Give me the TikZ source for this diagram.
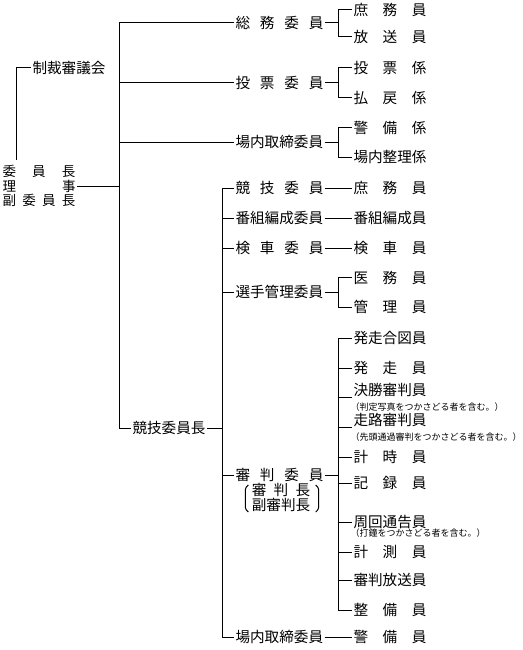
\documentclass[tikz,border=0pt]{standalone}
\usepackage{fontspec}
\setmainfont{Noto Sans CJK JP}
\newcommand{\spreadbox}[2]{\makebox[#1][s]{#2}}
\newcommand{\bigjp}{\fontsize{14.6}{15}\selectfont}
\newcommand{\chairjp}{\fontsize{13.5}{14.5}\selectfont}
\newcommand{\notejp}{\fontsize{9}{10}\selectfont}

\begin{document}
\begin{tikzpicture}[x=1pt,y=-1pt,line width=1pt,
    lbl/.style={anchor=west, inner xsep=1pt, inner ysep=0pt, font=\bigjp},
    note/.style={anchor=west, inner sep=0pt, font=\notejp}]
    \useasboundingbox (0,0) rectangle (522,650);

    \coordinate (xl) at (16,0);
    \coordinate (xa) at (119,0);
    \coordinate (xb) at (222,0);
    \coordinate (xs) at (338,0);
    \coordinate (seisaiend) at (16,160);

    % left side
    \node[lbl, font=\chairjp, align=left] (chair) at (1,186) {\spreadbox{73pt}{委\hfill 員\hfill 長}\\\spreadbox{73pt}{理\hfill 事}\\\spreadbox{73pt}{副\hfill 委\hfill 員\hfill 長}};
    \node[lbl] (seisai) at (31,68) {制裁審議会};
    \node[lbl] (kyogicho) at (131,428) {競技委員長};

    % committees
    \node[lbl] (soumu) at (234,23) {\spreadbox{88pt}{総\hfill 務\hfill 委\hfill 員}};
    \node[lbl] (tohyo) at (234,83) {\spreadbox{88pt}{投\hfill 票\hfill 委\hfill 員}};
    \node[lbl] (jonaia) at (234,142) {場内取締委員};
    \node[lbl] (kyogi) at (234,188) {\spreadbox{88pt}{競\hfill 技\hfill 委\hfill 員}};
    \node[lbl] (bangumi) at (234,218) {番組編成委員};
    \node[lbl] (kensha) at (234,248) {\spreadbox{88pt}{検\hfill 車\hfill 委\hfill 員}};
    \node[lbl] (senshu) at (234,292) {選手管理委員};
    \node[lbl] (shinpan) at (234,475) {\spreadbox{88pt}{審\hfill 判\hfill 委\hfill 員}};
    \node[lbl] (jonaib) at (234,637) {場内取締委員};
    \node[inner sep=0pt, font=\bigjp, align=left] (shincho) at (281,497.5) {\spreadbox{58.4pt}{審\hfill 判\hfill 長}\\副審判長};

    % members
    \node[lbl] (shomua) at (352,9.5) {\spreadbox{73pt}{庶\hfill 務\hfill 員}};
    \node[lbl] (hoso) at (352,37) {\spreadbox{73pt}{放\hfill 送\hfill 員}};
    \node[lbl] (tohyoka) at (352,68) {\spreadbox{73pt}{投\hfill 票\hfill 係}};
    \node[lbl] (haraimodoshi) at (352,98) {\spreadbox{73pt}{払\hfill 戻\hfill 係}};
    \node[lbl] (keibika) at (352,127.5) {\spreadbox{73pt}{警\hfill 備\hfill 係}};
    \node[lbl] (seiri) at (352,157) {場内整理係};
    \node[lbl] (shomub) at (352,188) {\spreadbox{73pt}{庶\hfill 務\hfill 員}};
    \node[lbl] (bangumiin) at (352,218) {番組編成員};
    \node[lbl] (kenshain) at (352,248) {\spreadbox{73pt}{検\hfill 車\hfill 員}};
    \node[lbl] (imu) at (352,277.5) {\spreadbox{73pt}{医\hfill 務\hfill 員}};
    \node[lbl] (kanri) at (352,307) {\spreadbox{73pt}{管\hfill 理\hfill 員}};
    \node[lbl] (aizu) at (352,338) {発走合図員};
    \node[lbl] (hasso) at (352,368) {\spreadbox{73pt}{発\hfill 走\hfill 員}};
    \node[lbl] (ketsusho) at (352,390) {決勝審判員};
    \node[lbl] (soro) at (352,420) {走路審判員};
    \node[lbl] (keiji) at (352,457) {\spreadbox{73pt}{計\hfill 時\hfill 員}};
    \node[lbl] (kiroku) at (352,483) {\spreadbox{73pt}{記\hfill 録\hfill 員}};
    \node[lbl] (shukai) at (352,522) {周回通告員};
    \node[lbl] (keisoku) at (352,552) {\spreadbox{73pt}{計\hfill 測\hfill 員}};
    \node[lbl] (hosoin) at (352,580) {審判放送員};
    \node[lbl] (seibi) at (352,610) {\spreadbox{73pt}{整\hfill 備\hfill 員}};
    \node[lbl] (keibiin) at (352,637) {\spreadbox{73pt}{警\hfill 備\hfill 員}};

    \node[note] (ketsushonote) at (350,407.5) {（判定写真をつかさどる者を含む。）};
    \node[note] (soronote) at (350,437) {（先頭通過審判をつかさどる者を含む。）};
    \node[note] (shukainote) at (350,533) {（打鐘をつかさどる者を含む。）};

    % main trunk
    \draw (seisai.west) -| (seisaiend);
    \draw (soumu.west) -| (xa |- kyogicho.west) -- (kyogicho.west);
    \draw (tohyo.west) -- (tohyo.west -| xa);
    \draw (jonaia.west) -- (jonaia.west -| xa);
    \draw (chair.east) -- (chair.east -| xa);

    % kyogi branch
    \draw (kyogi.west) -| (xb |- jonaib.west) -- (jonaib.west);
    \foreach \n in {bangumi, kensha, senshu, shinpan}
        \draw (\n.west) -- (\n.west -| xb);
    \draw (kyogicho.east) -- (kyogicho.east -| xb);

    % members
    \draw (shomua.west) -| (xs |- hoso.west) -- (hoso.west);
    \draw (soumu.east) -- (soumu.east -| xs);
    \draw (tohyoka.west) -| (xs |- haraimodoshi.west) -- (haraimodoshi.west);
    \draw (tohyo.east) -- (tohyo.east -| xs);
    \draw (keibika.west) -| (xs |- seiri.west) -- (seiri.west);
    \draw (jonaia.east) -- (jonaia.east -| xs);
    \draw (kyogi.east) -- (shomub.west);
    \draw (bangumi.east) -- (bangumiin.west);
    \draw (kensha.east) -- (kenshain.west);
    \draw (imu.west) -| (xs |- kanri.west) -- (kanri.west);
    \draw (senshu.east) -- (senshu.east -| xs);
    \draw (aizu.west) -| (xs |- seibi.west) -- (seibi.west);
    \foreach \n in {hasso, keiji, kiroku, shukai, keisoku, hosoin}
        \draw (\n.west) -- (\n.west -| xs);
    \foreach \n in {ketsusho, soro}
        \draw (\n.south west) -- (\n.south west -| xs);
    \draw (shinpan.east) -- (shinpan.east -| xs);
    \draw (jonaib.east) -- (keibiin.west);

    % brackets
    \draw[rounded corners=1.5pt] ([shift={(-3,-12.5)}]shincho.west) -- ++(-3,3) -- ++(0,21) -- ++(3,3);
    \draw[rounded corners=1.5pt] ([shift={(5,-12.5)}]shincho.east) -- ++(3,3) -- ++(0,21) -- ++(-3,3);

\end{tikzpicture}
\end{document}
